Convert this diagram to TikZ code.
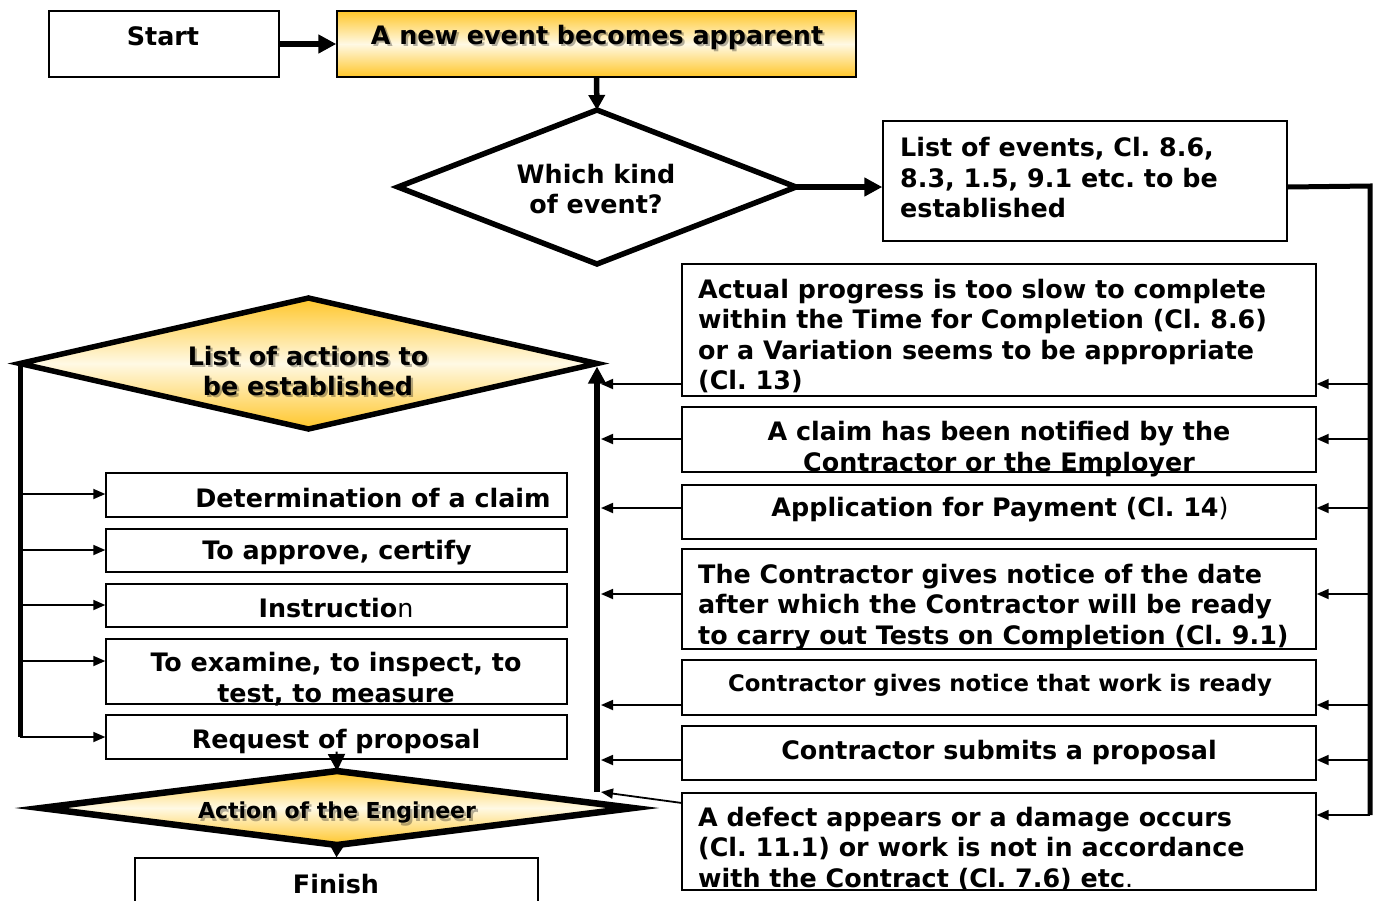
\documentclass[tikz,border=0pt]{standalone}
\usepackage{fontspec}
\setmainfont{DejaVu Sans}
\usetikzlibrary{arrows.meta,shapes.geometric,calc}
\definecolor{gold}{RGB}{255,198,41}
\definecolor{goldlight}{RGB}{255,249,228}
\frenchspacing
\begin{document}
\begin{tikzpicture}[x=1pt,y=-1pt,
  box/.style={draw=black, line width=1.4pt, rectangle, inner sep=0pt, fill=white},
  goldbox/.style={box, top color=gold, bottom color=gold, middle color=goldlight},
  dia/.style={draw=black, shape=diamond, inner sep=0pt, outer sep=0pt, line width=5.5pt, fill=white},
  golddia/.style={dia, top color=gold, bottom color=gold, middle color=goldlight},
  txt/.style={inner sep=0pt, font=\bfseries\fontsize{25.4}{30.5}\selectfont, align=left},
  ctxt/.style={txt, align=center},
  smalltxt/.style={txt, font=\bfseries\fontsize{22.8}{27}\selectfont},
  shade/.style={text=black, opacity=0.3, xshift=2.2pt, yshift=-2.2pt},
  thick arrow/.style={line width=5.5pt, -{Triangle[length=18pt,width=18pt]}},
  trunk/.style={line width=5pt},
  thin arrow/.style={line width=1.8pt, -{Triangle[length=12pt,width=10pt]}}
]
\useasboundingbox (0,0) rectangle (1386,900);
\clip (0,0) rectangle (1386,900);

% --- top row and first decision ---
\node[box, minimum width=230pt, minimum height=66pt] (start) at (164,44) {};
\node[goldbox, minimum width=519pt, minimum height=66pt] (newev) at (596.5,44) {};
\node[dia, minimum width=398pt, minimum height=154pt] (kind) at (597,187) {};
\node[box, minimum width=404pt, minimum height=120pt] (events) at (1085,181) {};

% --- events on the right ---
\node[box, minimum width=634pt, minimum height=132pt] (r1) at (999,330) {};
\node[box, minimum width=634pt, minimum height=65pt] (r2) at (999,439.5) {};
\node[box, minimum width=634pt, minimum height=54pt] (r3) at (999,512) {};
\node[box, minimum width=634pt, minimum height=100pt] (r4) at (999,599) {};
\node[box, minimum width=634pt, minimum height=55pt] (r5) at (999,687.5) {};
\node[box, minimum width=634pt, minimum height=54pt] (r6) at (999,753) {};
\node[box, minimum width=634pt, minimum height=97pt] (r7) at (999,841.5) {};

% --- actions on the left ---
\node[golddia, minimum width=577pt, minimum height=131pt] (acts) at (308.5,363.5) {};
\node[box, minimum width=461pt, minimum height=44pt] (l1) at (336.5,495) {};
\node[box, minimum width=461pt, minimum height=43pt] (l2) at (336.5,550.5) {};
\node[box, minimum width=461pt, minimum height=43pt] (l3) at (336.5,605.5) {};
\node[box, minimum width=461pt, minimum height=65pt] (l4) at (336.5,671.5) {};
\node[box, minimum width=461pt, minimum height=44pt] (l5) at (336.5,737) {};
\node[golddia, line width=6.5pt, minimum width=592pt, minimum height=74pt] (action) at (337,808) {};
\node[box, minimum width=403pt, minimum height=72pt] (finish) at (336.5,894) {};

% --- bus coordinates ---
\coordinate (rb0) at (1370,186);
\coordinate (rb1) at (1370,384);
\coordinate (rb2) at (1370,439);
\coordinate (rb3) at (1370,508);
\coordinate (rb4) at (1370,594);
\coordinate (rb5) at (1370,705);
\coordinate (rb6) at (1370,760);
\coordinate (rb7) at (1370,815);
\coordinate (mid) at (601,0);
\coordinate (vbot) at (597,792);
\coordinate (r7out) at (682,803);
\coordinate (lbot) at (20,737);
\coordinate (lb1) at (20,494);
\coordinate (lb2) at (20,550);
\coordinate (lb3) at (20,605);
\coordinate (lb4) at (20,661);
\coordinate (lb5) at (20,737);

% --- connectors ---
\draw[thick arrow] (start.east) -- (newev.west);
\draw[thick arrow, -{Triangle[length=15pt,width=16pt]}] (newev.south) -- (kind.north);
\draw[thick arrow] (kind.east) -- (kind.east -| events.west);
\draw[trunk] (kind.east -| events.east) -- (rb0) -- (rb7);
\foreach \i in {1,...,7} {
  \draw[thin arrow] (rb\i) -- (rb\i -| r1.east);
}
\foreach \i in {1,...,6} {
  \draw[thin arrow] (rb\i -| r1.west) -- (rb\i -| mid);
}
\draw[thin arrow] (r7out) -- ($(vbot)+(4,0)$);
\draw[line width=6pt, -{Triangle[length=17pt,width=17pt]}] (vbot) -- ($(acts.east)+(0,3)$);
\draw[trunk] (acts.west) -- (acts.west |- lbot);
\foreach \i in {1,...,5} {
  \draw[thin arrow] (lb\i) -- (lb\i -| l1.west);
}
\draw[line width=2pt, -{Triangle[length=17pt,width=17pt]}] ($(l5.south)+(0,-8)$) -- (action.north);
\draw[line width=2pt, -{Triangle[length=13pt,width=15pt]}] (action.south) -- (finish.north);

% --- texts ---
\node[ctxt] (t-start) at (163,36) {Start};
\node[ctxt, shade] at (597,37) {A new event becomes apparent};
\node[ctxt] (t-newev) at (597,37) {A new event becomes apparent};
\node[ctxt] (t-kind) at (596,189) {Which kind\\of event?};
\node[txt, anchor=west] (t-events) at (900,178) {List of events, Cl. 8.6,\\8.3, 1.5, 9.1 etc. to be\\established};
\node[txt, anchor=west] (t-r1) at (698,336) {Actual progress is too slow to complete\\within the Time for Completion (Cl. 8.6)\\or a Variation seems to be appropriate\\(Cl. 13)};
\node[ctxt] (t-r2) at (999,449) {A claim has been notified by the\\Contractor or the Employer};
\node[ctxt] (t-r3) at (1000,510) {Application for Payment (Cl. 14{\mdseries)}};
\node[txt, anchor=west] (t-r4) at (698,607) {The Contractor gives notice of the date\\after which the Contractor will be ready\\to carry out Tests on Completion (Cl. 9.1)};
\node[smalltxt] (t-r5) at (1000,685) {Contractor gives notice that work is ready};
\node[ctxt] (t-r6) at (999,752) {Contractor submits a proposal};
\node[txt, anchor=west] (t-r7) at (698,849) {A defect appears or a damage occurs\\(Cl. 11.1) or work is not in accordance\\with the Contract (Cl. 7.6) etc{\mdseries .}};
\node[ctxt, shade] at (308,371) {List of actions to\\be established};
\node[ctxt] (t-acts) at (308,371) {List of actions to\\be established};
\node[ctxt] (t-l1) at (373,498) {Determination of a claim};
\node[ctxt] (t-l2) at (337,553) {To approve, certify};
\node[ctxt] (t-l3) at (336,608) {Instructio{\mdseries n}};
\node[ctxt] (t-l4) at (336,679) {To examine, to inspect, to\\test, to measure};
\node[ctxt] (t-l5) at (336,741) {Request of proposal};
\node[smalltxt, font=\bfseries\fontsize{22}{26}\selectfont, shade] at (337,813) {Action of the Engineer};
\node[smalltxt, font=\bfseries\fontsize{22}{26}\selectfont] (t-action) at (337,813) {Action of the Engineer};
\node[ctxt] (t-finish) at (336,884) {Finish};
\end{tikzpicture}
\end{document}
